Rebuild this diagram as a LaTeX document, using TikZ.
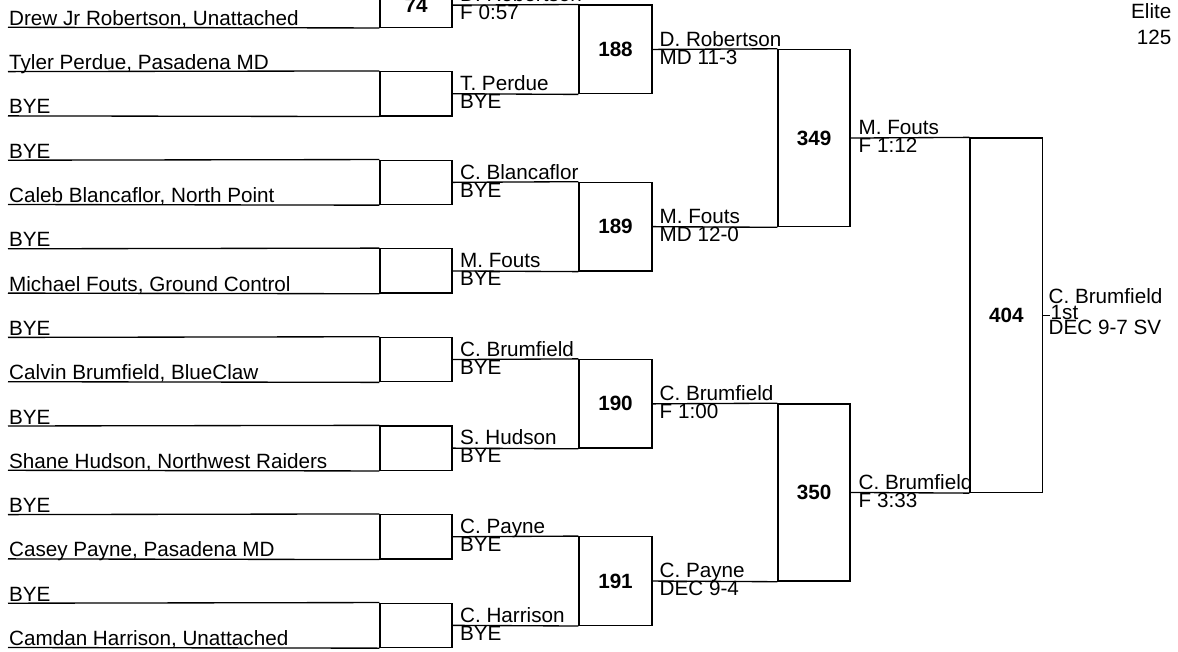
\documentclass[tikz,border=0pt]{standalone}
\usepackage{fontspec}
\setmainfont{Liberation Sans}
\begin{document}
\begin{tikzpicture}[x=0.75pt,y=-0.75pt,line width=1pt,
  txt/.style={font=\fontsize{15.5}{18}\selectfont,inner sep=0pt,anchor=base west},
  rtxt/.style={font=\fontsize{15.5}{18}\selectfont,inner sep=0pt,anchor=base east},
  numtxt/.style={font=\bfseries\fontsize{15.5}{18}\selectfont},
  boxA/.style={draw,inner sep=0pt,minimum width=54pt,minimum height=33.225pt,numtxt},
  boxB/.style={draw,inner sep=0pt,minimum width=54.75pt,minimum height=66.45pt,numtxt},
  boxC/.style={draw,inner sep=0pt,minimum width=54pt,minimum height=132.9pt,numtxt},
  boxD/.style={draw,inner sep=0pt,minimum width=54.5pt,minimum height=265.8pt,numtxt}]
\useasboundingbox (0,0) rectangle (1178,652);
\clip (0,0) rectangle (1178,652);

% round 1 boxes
\foreach \k/\n in {0/74,1/,2/,3/,4/,5/,6/,7/}{
  \node[boxA] (a\k) at (416,{5.15+88.6*\k}) {\n};
}
% round 2 boxes
\foreach \j/\n in {0/188,1/189,2/190,3/191}{
  \node[boxB] (b\j) at (615.5,{49.45+177.2*\j}) {\n};
}
% round 3 boxes
\foreach \m/\n in {0/349,1/350}{
  \node[boxC] (c\m) at (814,{138.05+354.4*\m}) {\n};
}
% final box
\node[boxD] (d0) at (1006.35,315.25) {404};

% entry lines
\foreach \i in {-1,...,14}{
  \coordinate (e\i) at (8,{27.3+44.3*\i});
}
\foreach \k in {0,...,7}{
  \pgfmathtruncatemacro{\top}{2*\k-1}
  \pgfmathtruncatemacro{\bot}{2*\k}
  \draw (e\top) -- (a\k.north west);
  \draw (e\bot) -- (a\k.south west);
}
% entry names
\foreach \i/\t in {0/{Drew Jr Robertson, Unattached},1/{Tyler Perdue, Pasadena MD},2/BYE,3/BYE,
  4/{Caleb Blancaflor, North Point},5/BYE,6/{Michael Fouts, Ground Control},7/BYE,
  8/{Calvin Brumfield, BlueClaw},9/BYE,10/{Shane Hudson, Northwest Raiders},11/BYE,
  12/{Casey Payne, Pasadena MD},13/BYE,14/{Camdan Harrison, Unattached}}{
  \node[txt] (n\i) at (8.5,{27.3+44.3*\i-2}) {\t};
}

% round 1 -> round 2
\foreach \j in {0,...,3}{
  \pgfmathtruncatemacro{\u}{2*\j}
  \pgfmathtruncatemacro{\v}{2*\j+1}
  \draw (a\u.east) -- (b\j.north west);
  \draw (a\v.east) -- (b\j.south west);
}
% round 2 -> round 3
\draw (b0.east) -- (c0.north west);
\draw (b1.east) -- (c0.south west);
\draw (b2.east) -- (c1.north west);
\draw (b3.east) -- (c1.south west);
% round 3 -> final
\draw (c0.east) -- (d0.north west);
\draw (c1.east) -- (d0.south west);
\coordinate (fin) at (1049.5,315.25);
\draw (d0.east) -- (fin);

% round 1 results
\foreach \k/\w/\r in {0/{D. Robertson}/{F 0:57},1/{T. Perdue}/BYE,2/{C. Blancaflor}/BYE,
  3/{M. Fouts}/BYE,4/{C. Brumfield}/BYE,5/{S. Hudson}/BYE,6/{C. Payne}/BYE,7/{C. Harrison}/BYE}{
  \node[txt] (w1\k) at (459.5,{5.15+88.6*\k-3.3}) {\w};
  \node[txt] (r1\k) at (459.5,{5.15+88.6*\k+14.8}) {\r};
}
% round 2 results
\foreach \j/\w/\r in {0/{D. Robertson}/{MD 11-3},1/{M. Fouts}/{MD 12-0},
  2/{C. Brumfield}/{F 1:00},3/{C. Payne}/{DEC 9-4}}{
  \node[txt] (w2\j) at (659,{49.45+177.2*\j-3.3}) {\w};
  \node[txt] (r2\j) at (659,{49.45+177.2*\j+14.8}) {\r};
}
% round 3 results
\foreach \m/\w/\r in {0/{M. Fouts}/{F 1:12},1/{C. Brumfield}/{F 3:33}}{
  \node[txt] (w3\m) at (858,{138.05+354.4*\m-3.3}) {\w};
  \node[txt] (r3\m) at (858,{138.05+354.4*\m+14.8}) {\r};
}
% final result
\node[txt] (w4) at (1048,303.5) {C. Brumfield};
\node[txt] (p4) at (1050,319.5) {1st};
\node[txt] (r4) at (1048,334.5) {DEC 9-7 SV};

% title
\node[rtxt] (t1) at (1172,18.5) {Elite};
\node[rtxt] (t2) at (1172,44.5) {125};
\end{tikzpicture}
\end{document}
